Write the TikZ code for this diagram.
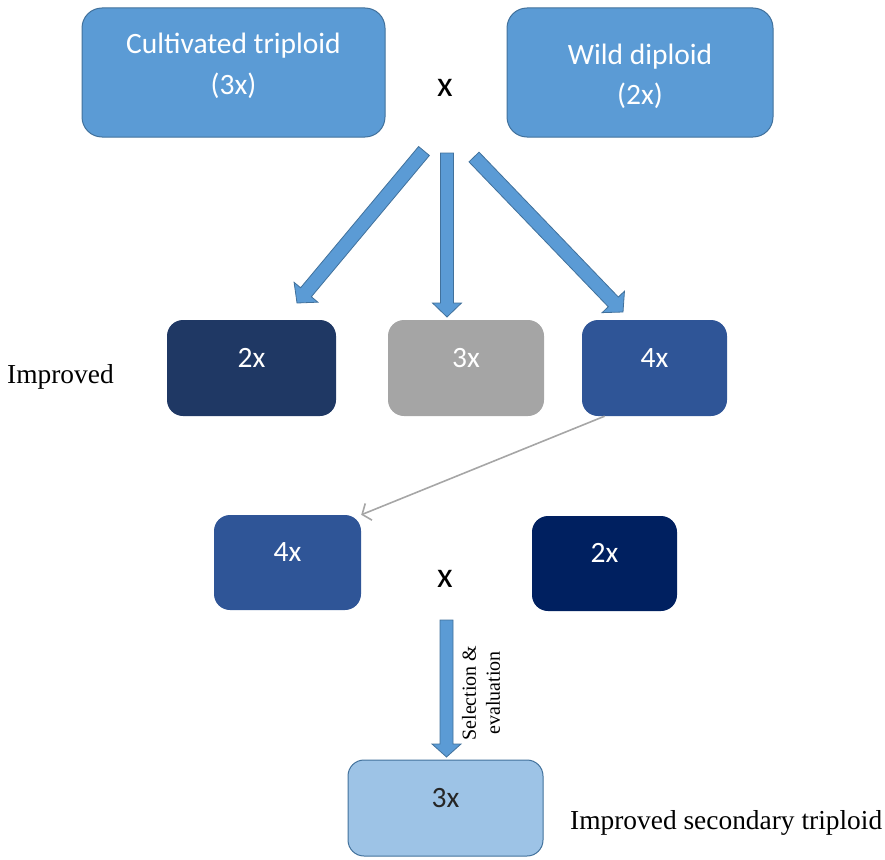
\documentclass[tikz,border=0pt]{standalone}
\usepackage{fontspec}
\setmainfont{Liberation Serif}
\newfontfamily\boxfont{Carlito}
\usetikzlibrary{arrows.meta,calc}

\definecolor{cellblue}{HTML}{5B9BD5}
\definecolor{celledge}{HTML}{41719C}
\definecolor{darknavy}{HTML}{1F3864}
\definecolor{midgray}{HTML}{A5A5A5}
\definecolor{royal}{HTML}{2F5597}
\definecolor{deepnavy}{HTML}{002060}
\definecolor{paleblue}{HTML}{9DC3E6}
\definecolor{linkgray}{HTML}{A6A6A6}

\begin{document}
\begin{tikzpicture}[x=1pt, y=-1pt,
            ploidy/.style={rectangle, rounded corners=16pt, inner sep=0pt, text=white,
                font=\boxfont\fontsize{29.5}{40}\selectfont, text height=20pt, text depth=22pt},
            parent/.style={ploidy, fill=cellblue, draw=celledge, line width=1pt,
                align=center, rounded corners=20pt},
            % wide block arrow: half shaft #1, half head #2, head length #3
            bigarrow/.style n args={3}{fill=cellblue, draw=celledge, line width=0.8pt, to path={
                ($(\tikztostart)!#1pt!90:(\tikztotarget)$)
                -- ($(\tikztotarget)!#3pt!(\tikztostart)!#1pt!90:(\tikztotarget)$)
                -- ($(\tikztotarget)!#3pt!(\tikztostart)!#2pt!90:(\tikztotarget)$)
                -- (\tikztotarget)
                -- ($(\tikztotarget)!#3pt!(\tikztostart)!#2pt!-90:(\tikztotarget)$)
                -- ($(\tikztotarget)!#3pt!(\tikztostart)!#1pt!-90:(\tikztotarget)$)
                -- ($(\tikztostart)!#1pt!-90:(\tikztotarget)$) -- cycle}},
            tag/.style={anchor=base west, inner sep=0pt, font=\fontsize{27.4}{32}\selectfont}]
            \useasboundingbox (0,0) rectangle (885,859);

            \node[parent, minimum width=303pt, minimum height=129pt, text height=50pt, text depth=7pt]
                (cult) at (233.5,72.5) {Cultivated triploid\\(3x)};
            \node[parent, minimum width=266pt, minimum height=129pt, text height=70pt, text depth=7pt]
                (wild) at (640,72.5) {Wild diploid\\(2x)};
            \node[font=\boxfont\fontsize{36}{40}\selectfont] (cross) at (445,88) {x};

            \node[ploidy, fill=darknavy, minimum width=169pt, minimum height=96pt] (up2) at (251.5,368) {2x};
            \node[ploidy, fill=midgray, minimum width=156pt, minimum height=96pt] (up3) at (466,368) {3x};
            \node[ploidy, fill=royal, minimum width=145pt, minimum height=96pt] (up4) at (654.5,368) {4x};
            \node[tag] (improved) at (7,383) {Improved};

            \node[ploidy, fill=royal, minimum width=147pt, minimum height=95pt] (low4) at (287.5,562.5) {4x};
            \node[font=\boxfont\fontsize{36}{40}\selectfont] (cross2) at (445,579) {x};
            \node[ploidy, fill=deepnavy, minimum width=145pt, minimum height=95pt] (low2) at (604.5,563.5) {2x};

            \node[ploidy, fill=paleblue, draw=celledge, line width=1pt, text=black!85,
                minimum width=195pt, minimum height=96pt] (final) at (445.5,808) {3x};
            \node[tag] (secondary) at (570,829) {Improved secondary triploid};
            \node[rotate=90, align=center, inner sep=0pt, font=\fontsize{20}{24}\selectfont]
                (select) at (481,693) {Selection \&\\evaluation};

            \coordinate (s1) at (424,151);
            \coordinate (t1) at (297,303);
            \coordinate (s2) at (447,153);
            \coordinate (t2) at (447,317);
            \coordinate (s3) at (474,157);
            \coordinate (t3) at (623,312);
            \coordinate (s4) at (446.5,620);
            \coordinate (t4) at (446.5,757);

            \draw[bigarrow={7}{15.5}{14}] (s1) to (t1);
            \draw[bigarrow={6.5}{14.5}{14}] (s2) to (t2);
            \draw[bigarrow={7}{15.5}{14}] (s3) to (t3);
            \draw[bigarrow={6.5}{14.5}{13}] (s4) to (t4);

            \draw[linkgray, line width=1.6pt, -{Straight Barb[length=7pt,width=18pt]}]
                (up4.-136) -- (low4.north east);
         \end{tikzpicture}
\end{document}
